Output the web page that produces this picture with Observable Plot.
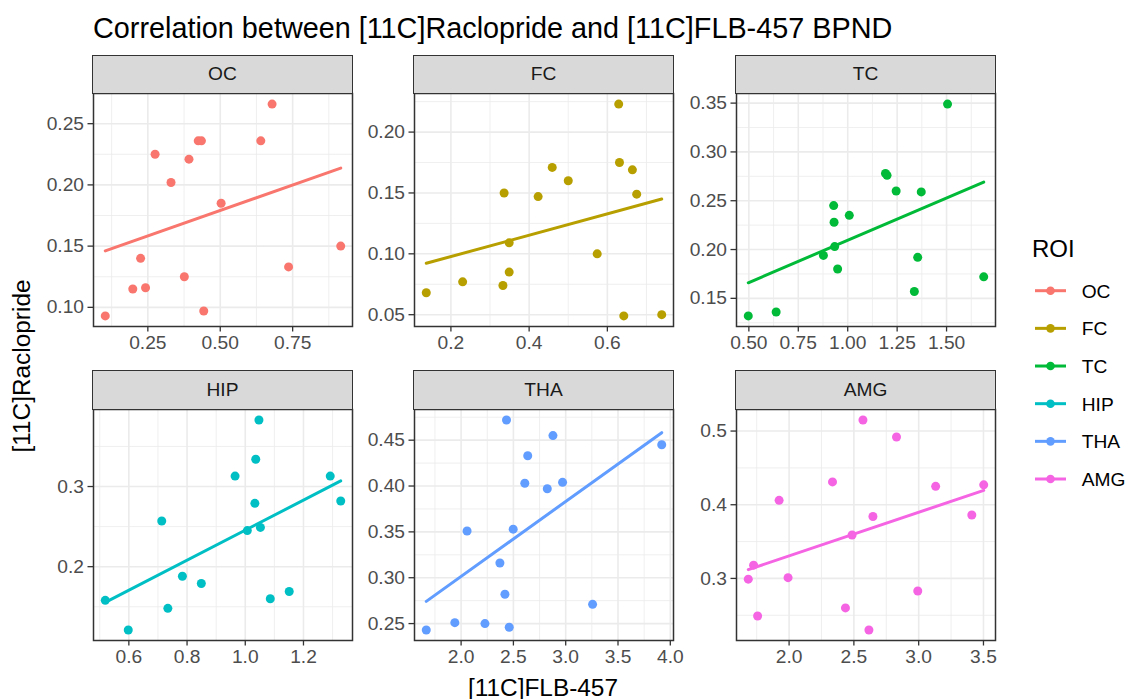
<!DOCTYPE html>
<html><head><meta charset="utf-8">
<script src="https://cdn.jsdelivr.net/npm/d3@7"></script>
<script src="https://cdn.jsdelivr.net/npm/@observablehq/plot@0.6"></script>
<style>
body{margin:0;background:#fff;font-family:"Liberation Sans",Arial,sans-serif;}
#root{position:relative;width:1127px;height:699px;overflow:hidden;background:#fff;}
.panel{position:absolute;}
.panel svg{overflow:visible;}
.strip{position:absolute;background:#D9D9D9;border:1.5px solid #333;box-sizing:border-box;text-align:center;font-size:19.2px;color:#1A1A1A;display:flex;align-items:center;justify-content:center;}
#overlay{position:absolute;left:0;top:0;pointer-events:none;}
</style></head><body><div id="root"></div>
<script>
// ---- data ----
const rois = ["OC","FC","TC","HIP","THA","AMG"];
const roiColors = ["#F8766D","#B79F00","#00BA38","#00BFC4","#619CFF","#F564E3"];

const ocX  = [0.103,0.198,0.225,0.242,0.275,0.330,0.376,0.392,0.424,0.435,0.443,0.503,0.640,0.679,0.736,0.916];
const ocY  = [0.093,0.115,0.140,0.116,0.225,0.202,0.125,0.221,0.236,0.236,0.097,0.185,0.236,0.266,0.133,0.150];
const fcX  = [0.137,0.230,0.333,0.336,0.349,0.349,0.423,0.459,0.500,0.574,0.629,0.631,0.642,0.664,0.675,0.739];
const fcY  = [0.068,0.077,0.074,0.150,0.109,0.085,0.147,0.171,0.160,0.100,0.223,0.175,0.049,0.169,0.149,0.050];
const tcX  = [0.497,0.638,0.877,0.929,0.931,0.934,0.949,1.008,1.191,1.199,1.245,1.337,1.354,1.372,1.505,1.688];
const tcY  = [0.132,0.136,0.194,0.245,0.228,0.203,0.180,0.235,0.278,0.276,0.260,0.157,0.192,0.259,0.349,0.172];
const hipX = [0.519,0.598,0.713,0.734,0.784,0.849,0.965,1.007,1.033,1.036,1.047,1.052,1.086,1.151,1.292,1.328];
const hipY = [0.158,0.121,0.257,0.148,0.188,0.179,0.313,0.245,0.279,0.334,0.383,0.249,0.160,0.169,0.313,0.282];
const thaX = [1.667,1.940,2.057,2.228,2.371,2.419,2.434,2.460,2.498,2.609,2.637,2.824,2.878,2.970,3.257,3.918];
const thaY = [0.243,0.251,0.351,0.250,0.316,0.282,0.472,0.246,0.353,0.403,0.433,0.397,0.455,0.404,0.271,0.445];
const amgX = [1.685,1.726,1.757,1.923,1.992,2.335,2.435,2.486,2.570,2.616,2.647,2.829,2.993,3.131,3.410,3.502];
const amgY = [0.299,0.318,0.249,0.406,0.301,0.431,0.260,0.359,0.515,0.230,0.384,0.492,0.283,0.425,0.386,0.427];

const xTickValues = [[0.25,0.50,0.75],[0.2,0.4,0.6],[0.50,0.75,1.00,1.25,1.50],[0.6,0.8,1.0,1.2],[2.0,2.5,3.0,3.5,4.0],[2.0,2.5,3.0,3.5]];
const yTickValues = [[0.10,0.15,0.20,0.25],[0.05,0.10,0.15,0.20],[0.15,0.20,0.25,0.30,0.35],[0.2,0.3],[0.25,0.30,0.35,0.40,0.45],[0.3,0.4,0.5]];
const xTickFormats = [".2f",".1f",".2f",".1f",".1f",".1f"];
const yTickFormats = [".2f",".2f",".2f",".1f",".2f",".1f"];

const titleText = "Correlation between [11C]Raclopride and [11C]FLB-457 BPND";
const xTitle = "[11C]FLB-457";
const yTitle = "[11C]Raclopride";
const legendTitle = "ROI";

const seriesX = [ocX, fcX, tcX, hipX, thaX, amgX];
const seriesY = [ocY, fcY, tcY, hipY, thaY, amgY];

// ---- layout ----
const colLeft = [93, 414, 736];
const panelW = 259;
const rowTop = [93, 409];
const rowH = [233, 231];
const stripTop = [55, 370];
const mL = 62, mR = 4, mT = 4, mB = 40;
const FONT = "'Liberation Sans', Arial, sans-serif";
const TICK_FS = 19.2;

const root = document.getElementById("root");

function padded(arr){ const [a,b] = d3.extent(arr); const r = b - a; return [a - 0.05*r, b + 0.05*r]; }
function minors(t, dom){ const s = t[1]-t[0]; const out=[]; for(let k=-10;k<30;k++){ const v = t[0] + s*k + s/2; if (v>dom[0] && v<dom[1]) out.push(v);} return out; }

rois.forEach((roi, i) => {
  const col = i % 3, row = Math.floor(i / 3);
  const color = roiColors[i];
  const data = seriesX[i].map((x, j) => ({x, y: seriesY[i][j]}));
  const xd = padded(seriesX[i]), yd = padded(seriesY[i]);
  const xt = xTickValues[i], yt = yTickValues[i];
  const chart = Plot.plot({
    width: mL + panelW + mR,
    height: mT + rowH[row] + mB,
    marginLeft: mL, marginRight: mR, marginTop: mT, marginBottom: mB,
    style: {fontFamily: FONT, background: "transparent", overflow: "visible"},
    x: {domain: xd, label: null},
    y: {domain: yd, label: null},
    marks: [
      Plot.ruleX(minors(xt, xd), {stroke: "#EBEBEB", strokeWidth: 0.8}),
      Plot.ruleY(minors(yt, yd), {stroke: "#EBEBEB", strokeWidth: 0.8}),
      Plot.ruleX(xt, {stroke: "#EBEBEB", strokeWidth: 1.6}),
      Plot.ruleY(yt, {stroke: "#EBEBEB", strokeWidth: 1.6}),
      Plot.dot(data, {x: "x", y: "y", r: 4.5, fill: color, stroke: "none"}),
      Plot.linearRegressionY(data, {x: "x", y: "y", stroke: color, strokeWidth: 3, ci: 0}),
      Plot.axisX(xt, {tickFormat: d3.format(xTickFormats[i]), tickSize: 5.5, tickPadding: 3, fontSize: TICK_FS, fill: "#4D4D4D", stroke: "#333", strokeWidth: 1.3, label: null}),
      Plot.axisY(yt, {tickFormat: d3.format(yTickFormats[i]), tickSize: 5.5, tickPadding: 4, fontSize: TICK_FS, fill: "#4D4D4D", stroke: "#333", strokeWidth: 1.3, label: null}),
      Plot.frame({stroke: "#333", strokeWidth: 1.5})
    ]
  });
  const wrap = document.createElement("div");
  wrap.className = "panel";
  wrap.style.left = (colLeft[col] - mL) + "px";
  wrap.style.top = (rowTop[row] - mT) + "px";
  wrap.appendChild(chart);
  root.appendChild(wrap);

  const strip = document.createElement("div");
  strip.className = "strip";
  strip.style.left = (colLeft[col] - 0.75) + "px";
  strip.style.width = (panelW + 1.5) + "px";
  strip.style.top = stripTop[row] + "px";
  strip.style.height = (rowTop[row] - stripTop[row] + 0.75) + "px";
  strip.textContent = roi;
  root.appendChild(strip);
});

// ---- overlay texts & legend ----
const svg = d3.select(root).append("svg").attr("id","overlay").attr("width",1127).attr("height",699)
  .style("font-family", FONT);
svg.append("text").attr("x", 93).attr("y", 37.5).attr("font-size", 28.8).attr("fill", "#000").text(titleText);
svg.append("text").attr("x", 543).attr("y", 695.5).attr("text-anchor","middle").attr("font-size", 24.4).attr("fill","#000").text(xTitle);
svg.append("text").attr("transform","translate(30,366) rotate(-90)").attr("text-anchor","middle").attr("font-size", 24.4).attr("fill","#000").text(yTitle);

const lg = svg.append("g").attr("transform","translate(1000,220)");
lg.append("text").attr("x", 32).attr("y", 36.7).attr("font-size", 24).attr("fill","#000").text(legendTitle);
rois.forEach((roi, i) => {
  const cy = 70.7 + i * 37.66;
  lg.append("line").attr("x1", 35).attr("x2", 66).attr("y1", cy).attr("y2", cy).attr("stroke", roiColors[i]).attr("stroke-width", 3);
  lg.append("circle").attr("cx", 50.5).attr("cy", cy).attr("r", 4.3).attr("fill", roiColors[i]);
  lg.append("text").attr("x", 81.7).attr("y", cy).attr("dy","0.36em").attr("font-size", 19.2).attr("fill","#000").text(roi);
});
</script>
</body></html>
